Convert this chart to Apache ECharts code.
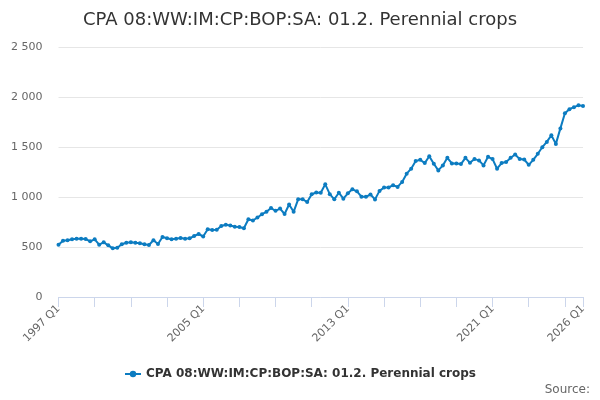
<!DOCTYPE html>
<html>
<head>
<meta charset="utf-8">
<script src="https://cdn.jsdelivr.net/npm/echarts@6/dist/echarts.min.js"></script>
<style>
html, body { margin: 0; padding: 0; background: #fff; }
#chart { width: 600px; height: 400px; }
</style>
</head>
<body>
<div id="chart"></div>
<script>
var seriesName = 'CPA 08:WW:IM:CP:BOP:SA: 01.2. Perennial crops';
var firstYear = 1997;
var lastYear = 2026;
var quarters = ['Q1', 'Q2', 'Q3', 'Q4'];
var values = [
    523, 563, 567, 577,
    583, 583, 580, 557,
    577, 523, 547, 517,
    487, 493, 527, 543,
    547, 543, 537, 527,
    520, 567, 530, 600,
    587, 577, 583, 590,
    583, 587, 610, 630,
    605, 677, 670, 673,
    710, 723, 715, 703,
    700, 687, 778, 765,
    795, 828, 852, 890,
    862, 884, 830, 925,
    852, 977, 977, 950,
    1027, 1045, 1043, 1127,
    1028, 977, 1043, 983,
    1037, 1077, 1057, 1003,
    1002, 1025, 976, 1061,
    1095, 1095, 1118, 1101,
    1151, 1233, 1283, 1359,
    1372, 1339, 1408, 1332,
    1266, 1316, 1392, 1336,
    1336, 1329, 1392, 1342,
    1379, 1366, 1316, 1402,
    1379, 1283, 1339, 1349,
    1392, 1425, 1379, 1375,
    1322, 1372, 1432, 1498,
    1551, 1617, 1531, 1686,
    1838, 1878, 1898, 1917,
    1911
];

var categories = [];
for (var y = firstYear; y <= lastYear; y++) {
    for (var q = 0; q < 4; q++) {
        if (categories.length < values.length) categories.push(y + ' ' + quarters[q]);
    }
}
var lastIdx = categories.length - 1;

var myChart = echarts.init(document.getElementById('chart'));
var option = {
    animation: false,
    textStyle: { fontFamily: 'DejaVu Sans' },
    title: {
        text: seriesName,
        left: 'center',
        top: 6,
        textStyle: { fontSize: 18, fontWeight: 'normal', color: '#333', fontFamily: 'DejaVu Sans' }
    },
    grid: { left: 58.5, right: 17, top: 47, bottom: 103 },
    legend: {
        bottom: 15,
        left: 'center',
        itemWidth: 16,
        itemHeight: 8,
        itemGap: 6,
        textStyle: { fontSize: 12, fontWeight: 'bold', color: '#333' },
        data: [seriesName]
    },
    graphic: [{
        type: 'text',
        right: 10,
        bottom: 4,
        style: { text: 'Source:', fontSize: 12, fill: '#666', fontFamily: 'DejaVu Sans' }
    }],
    xAxis: {
        type: 'category',
        data: categories,
        boundaryGap: false,
        axisLine: { lineStyle: { color: '#ccd6eb' } },
        axisTick: {
            length: 10,
            lineStyle: { color: '#ccd6eb' },
            interval: function (i) { return i % 8 === 0 || i === lastIdx; }
        },
        axisLabel: {
            rotate: 45,
            color: '#666',
            fontSize: 11,
            margin: 10,
            interval: function (i) { return i % 32 === 0 || i === lastIdx; }
        },
        splitLine: { show: false }
    },
    yAxis: {
        type: 'value',
        min: 0,
        max: 2500,
        interval: 500,
        axisLine: { show: false },
        axisTick: { show: false },
        axisLabel: {
            color: '#666',
            fontSize: 11,
            margin: 16,
            formatter: function (v) { return String(v).replace(/\B(?=(\d{3})+(?!\d))/g, ' '); }
        },
        splitLine: { lineStyle: { color: '#e6e6e6' } }
    },
    series: [{
        name: seriesName,
        type: 'line',
        data: values,
        symbol: 'circle',
        symbolSize: 4,
        showAllSymbol: true,
        itemStyle: { color: '#0c7cc1' },
        lineStyle: { width: 2, color: '#0c7cc1' }
    }]
};
myChart.setOption(option);
</script>
</body>
</html>
